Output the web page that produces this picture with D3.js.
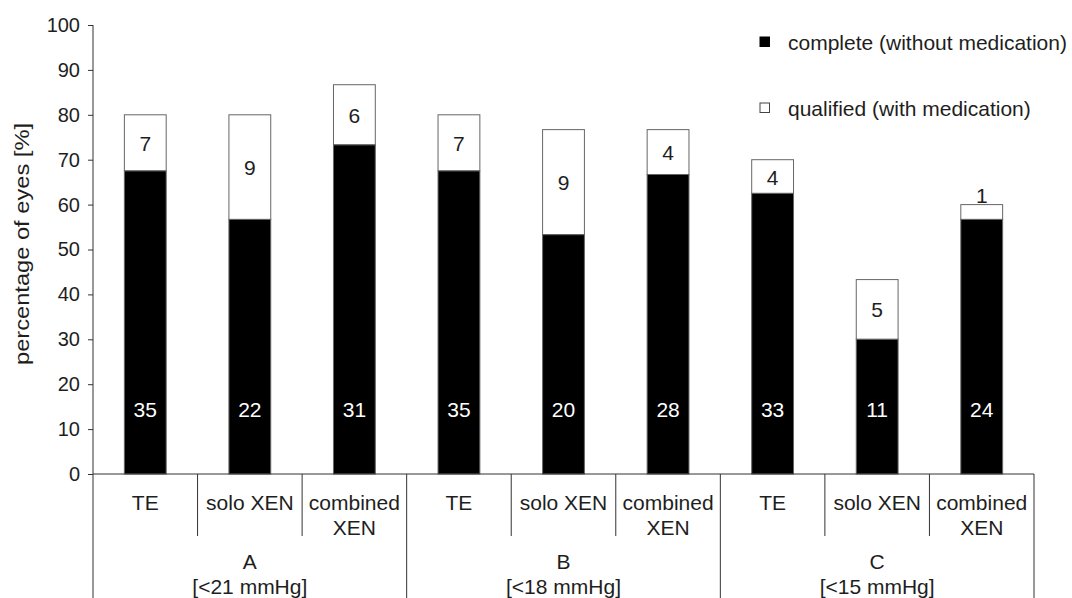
<!DOCTYPE html>
<html>
<head>
<meta charset="utf-8">
<script src="https://cdn.jsdelivr.net/npm/d3@7"></script>
<style>
html,body{margin:0;padding:0;background:#fff;}
svg{display:block;font-family:"Liberation Sans",Arial,sans-serif;}
</style>
</head>
<body>
<svg id="chart" width="1072" height="598"></svg>
<script>
const groups = ["A", "B", "C"];
const groupSubs = ["[<21 mmHg]", "[<18 mmHg]", "[<15 mmHg]"];
const categories = ["TE", "solo XEN", "combined XEN"];
const completePct = [67.5, 56.7, 73.3, 67.5, 53.3, 66.7, 62.5, 30.0, 56.7];
const totalPct = [80.0, 80.0, 86.7, 80.0, 76.7, 76.7, 70.0, 43.3, 60.0];
const completeN = [35, 22, 31, 35, 20, 28, 33, 11, 24];
const qualifiedN = [7, 9, 6, 7, 9, 4, 4, 5, 1];
const yTicks = [0, 10, 20, 30, 40, 50, 60, 70, 80, 90, 100];
const legendLabels = ["complete (without medication)", "qualified (with medication)"];
const yLabel = "percentage of eyes [%]";

(function () {
const rows = [];
groups.forEach((g, gi) => categories.forEach((c, ci) => {
  const i = gi * categories.length + ci;
  rows.push({i, group: g, cat: c, complete: completePct[i], total: totalPct[i], nC: completeN[i], nQ: qualifiedN[i]});
}));

const svg = d3.select("#chart");
const mLeft = 93, mRight = 1034, mTop = 25, mBase = 474;
const textColor = "#1e1e1e";
const lineColor = "#333";
const fs = 21;

const x = d3.scaleBand().domain(rows.map(d => d.i)).range([mLeft, mRight]).paddingInner(0.6).paddingOuter(0.3);
const y = d3.scaleLinear().domain([0, 100]).range([mBase, mTop]);
const step = x.step();

// y axis
const yAxis = svg.append("g").attr("transform", `translate(${mLeft},0)`)
  .call(d3.axisLeft(y).tickValues(yTicks).tickSize(5).tickPadding(8));
yAxis.select(".domain").remove();
yAxis.selectAll("line").attr("stroke", lineColor);
yAxis.selectAll("text").attr("font-size", 20).attr("fill", textColor).attr("font-family", "Liberation Sans, Arial, sans-serif");

svg.append("line").attr("x1", mLeft).attr("x2", mLeft).attr("y1", y(100)).attr("y2", 598).attr("stroke", lineColor);

// y label
svg.append("text")
  .attr("transform", `translate(29,${(123 + 365) / 2}) rotate(-90)`)
  .attr("text-anchor", "middle").attr("font-size", fs).attr("fill", textColor)
  .attr("textLength", 242).attr("lengthAdjust", "spacingAndGlyphs")
  .text(yLabel);

// bars
const bars = svg.append("g");
bars.selectAll("rect.q").data(rows).join("rect").attr("class", "q")
  .attr("x", d => x(d.i)).attr("width", x.bandwidth())
  .attr("y", d => y(d.total)).attr("height", d => y(d.complete) - y(d.total))
  .attr("fill", "#fff").attr("stroke", "#666").attr("stroke-width", 1);
bars.selectAll("rect.c").data(rows).join("rect").attr("class", "c")
  .attr("x", d => x(d.i)).attr("width", x.bandwidth())
  .attr("y", d => y(d.complete)).attr("height", d => y(0) - y(d.complete))
  .attr("fill", "#000").attr("stroke", "#666").attr("stroke-width", 1);

// labels
svg.append("g").selectAll("text").data(rows).join("text")
  .attr("x", d => x(d.i) + x.bandwidth() / 2)
  .attr("y", y(14.3) + 7.5)
  .attr("text-anchor", "middle").attr("font-size", fs).attr("fill", "#fff")
  .text(d => d.nC);
svg.append("g").selectAll("text").data(rows).join("text")
  .attr("x", d => x(d.i) + x.bandwidth() / 2)
  .attr("y", d => {
    const h = y(d.complete) - y(d.total);
    return h < 24 ? y(d.total) - 2 : (y(d.complete) + y(d.total)) / 2 + 8;
  })
  .attr("text-anchor", "middle").attr("font-size", fs).attr("fill", textColor)
  .text(d => d.nQ);

// bottom axis line
svg.append("line").attr("x1", mLeft).attr("x2", mRight).attr("y1", mBase).attr("y2", mBase).attr("stroke", lineColor);

// separators
const seps = d3.range(1, rows.length + 1);
svg.append("g").selectAll("line").data(seps).join("line")
  .attr("x1", k => mLeft + k * step).attr("x2", k => mLeft + k * step)
  .attr("y1", mBase).attr("y2", k => (k % categories.length === 0) ? 598 : 536)
  .attr("stroke", lineColor);

// category labels
const catG = svg.append("g").selectAll("g").data(rows).join("g")
  .attr("transform", d => `translate(${x(d.i) + x.bandwidth() / 2},0)`);
catG.each(function(d) {
  const g = d3.select(this);
  const words = d.cat === "combined XEN" ? ["combined", "XEN"] : [d.cat];
  words.forEach((w, wi) => g.append("text").attr("y", 510 + wi * 25)
    .attr("text-anchor", "middle").attr("font-size", fs).attr("fill", textColor).text(w));
});

// group labels
groups.forEach((g, gi) => {
  const cx = mLeft + (gi * 3 + 1.5) * step;
  svg.append("text").attr("x", cx).attr("y", 569).attr("text-anchor", "middle")
    .attr("font-size", fs).attr("fill", textColor).text(g);
  svg.append("text").attr("x", cx).attr("y", 594).attr("text-anchor", "middle")
    .attr("font-size", fs).attr("fill", textColor).text(groupSubs[gi]);
});

// legend
const legend = svg.append("g");
legendLabels.forEach((lab, li) => {
  const ly = 42 + li * 66;
  legend.append("rect").attr("x", 760).attr("y", ly - 5).attr("width", 9.5).attr("height", 9.5)
    .attr("fill", li === 0 ? "#000" : "#fff").attr("stroke", li === 0 ? "#000" : "#444");
  legend.append("text").attr("x", 788).attr("y", ly + 7.5).attr("font-size", fs)
    .attr("fill", textColor).text(lab);
});
})();
</script>
</body>
</html>
